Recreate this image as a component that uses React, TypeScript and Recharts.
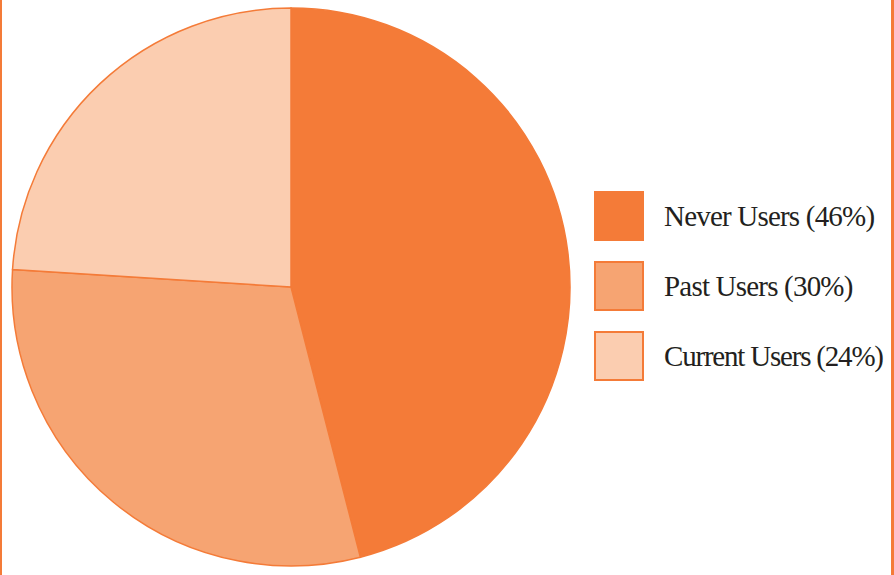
import React from 'react';
import { PieChart, Pie, Cell, Legend } from 'recharts';

const categories = ['Never Users', 'Past Users', 'Current Users'];
const shares = [46, 30, 24];
const colors = ['#F47B38', '#F6A472', '#FBCDB0'];

const data = categories.map((name, i) => ({ name, value: shares[i] }));

const BORDER = '#F47B38';

const UsersLegend = () => (
  <div>
    {data.map((d, i) => (
      <div key={d.name} style={{ display: 'flex', alignItems: 'center', height: 50, marginBottom: 20 }}>
        <div
          style={{
            width: 50,
            height: 50,
            boxSizing: 'border-box',
            background: colors[i],
            border: `2px solid ${BORDER}`,
          }}
        />
        <span
          style={{
            marginLeft: 20,
            fontFamily: '"Liberation Serif", "Times New Roman", serif',
            fontSize: 29,
            letterSpacing: i === 2 ? -1.2 : -0.8,
            color: '#231F20',
            whiteSpace: 'nowrap',
          }}
        >
          {`${d.name} (${d.value}%)`}
        </span>
      </div>
    ))}
  </div>
);

export default function App() {
  return (
    <div
      style={{
        position: 'absolute',
        top: 0,
        left: 0,
        width: 894,
        height: 575,
        boxSizing: 'border-box',
        borderLeft: `2px solid ${BORDER}`,
        borderRight: `3px solid ${BORDER}`,
        background: '#fff',
      }}
    >
      <div style={{ position: 'absolute', left: -2, top: 0 }}>
        <PieChart width={894} height={575} margin={{ top: 0, right: 0, bottom: 0, left: 0 }}>
          <Pie
            data={data}
            dataKey="value"
            nameKey="name"
            cx={291}
            cy={287}
            outerRadius={279}
            startAngle={90}
            endAngle={-270}
            stroke={BORDER}
            strokeWidth={1.5}
            isAnimationActive={false}
          >
            {data.map((d, i) => (
              <Cell key={d.name} fill={colors[i]} />
            ))}
          </Pie>
          <Legend
            content={<UsersLegend />}
            wrapperStyle={{ left: 594, top: 191, width: 300 }}
          />
        </PieChart>
      </div>
    </div>
  );
}
